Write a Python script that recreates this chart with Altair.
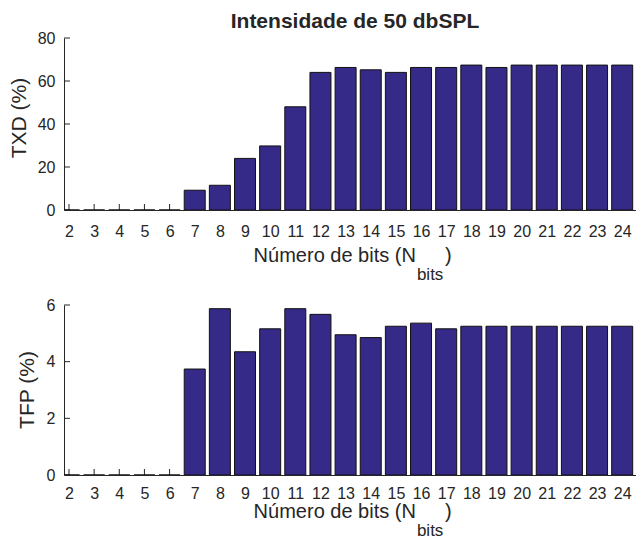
import altair as alt
import pandas as pd

# ---- data ----
bits = list(range(2, 25))
txd = [0, 0, 0, 0, 0, 9.2, 11.5, 24.0, 29.8, 48.0, 64.0, 66.3, 65.2, 64.0,
       66.3, 66.3, 67.4, 66.3, 67.4, 67.4, 67.4, 67.4, 67.4]
tfp = [0, 0, 0, 0, 0, 3.74, 5.87, 4.35, 5.16, 5.87, 5.67, 4.95, 4.85, 5.25,
       5.36, 5.16, 5.25, 5.25, 5.25, 5.25, 5.25, 5.25, 5.25]
txd_ticks = [0, 20, 40, 60, 80]
tfp_ticks = [0, 2, 4, 6]
title_text = ["Intensidade de 50 dbSPL"]
xlabel_main = ["Número de bits (N"]
xlabel_sub = ["bits"]
xlabel_end = [")"]
ylabel_top = ["TXD (%)"]
ylabel_bottom = ["TFP (%)"]

FONT = "Liberation Sans"
INK = "#262626"
BAR = "#352a87"
W = 572
XMAX = 24.35
CX = W * (15.75 - 2) / (XMAX - 2)  # anchor of the x label, in plot pixels


def panel(values, ticks, ymax, h, ylab, ytx, yty, xl_base, sub_base, lab_pad,
          a_top, a_bot, title=None):
    xs = alt.Scale(domain=[2, XMAX], nice=False, zero=False)
    ys = alt.Scale(domain=[0, ymax], nice=False, zero=True)
    xaxis = alt.Axis(values=bits, title=None, ticks=False, tickSize=0,
                     grid=False, labelPadding=lab_pad, labelFontSize=16,
                     labelFont=FONT, labelColor=INK, domainColor=INK,
                     domainWidth=1, labelFlush=False, labelOverlap=False)
    yaxis = alt.Axis(values=ticks, title=None, ticks=False, tickSize=0,
                     grid=False, labelPadding=9, labelFontSize=16,
                     labelFont=FONT, labelColor=INK, domainColor=INK,
                     domainWidth=1, labelFlush=False, labelOverlap=False)
    df = pd.DataFrame({"n": bits, "v": values})

    anchor = alt.Chart(pd.DataFrame({"a": [0]})).mark_rule(
        strokeOpacity=0).encode(
        x=alt.value(-56), y=alt.value(a_top), y2=alt.value(a_bot))
    xt = alt.Chart(pd.DataFrame({"n": bits})).mark_rule(
        color=INK, strokeWidth=1).encode(
        x=alt.X("n:Q", scale=xs, axis=xaxis),
        y=alt.value(h), y2=alt.value(h - 6))
    yt = alt.Chart(pd.DataFrame({"v": ticks})).mark_rule(
        color=INK, strokeWidth=1).encode(
        y=alt.Y("v:Q", scale=ys, axis=yaxis),
        x=alt.value(0), x2=alt.value(6))
    bars = alt.Chart(df).mark_bar(
        size=21, fill=BAR, stroke="#111111", strokeWidth=1, clip=True).encode(
        x=alt.X("n:Q", scale=xs, axis=xaxis),
        y=alt.Y("v:Q", scale=ys, axis=yaxis))

    def txt(vals, **kw):
        enc = {k: alt.value(v) for k, v in kw.pop("pos").items()}
        return alt.Chart(pd.DataFrame({"t": vals})).mark_text(
            font=FONT, color=INK, **kw).encode(text="t:N", **enc)

    layers = [anchor, xt, yt, bars,
              txt(xlabel_main, align="right", baseline="alphabetic",
                  fontSize=20, pos={"x": CX, "y": xl_base}),
              txt(xlabel_sub, align="left", baseline="alphabetic",
                  fontSize=17, pos={"x": CX + 1, "y": sub_base}),
              txt(xlabel_end, align="left", baseline="alphabetic",
                  fontSize=20, pos={"x": CX + 29, "y": xl_base}),
              txt(ylab, align="center", baseline="middle", angle=270,
                  fontSize=21, pos={"x": ytx, "y": yty})]
    if title:
        layers.append(txt(title, align="center", baseline="alphabetic",
                          fontSize=21, fontWeight="bold",
                          pos={"x": W / 2 + 5, "y": -10}))
    return alt.layer(*layers).properties(width=W, height=h)


top = panel(txd, txd_ticks, 80, 172, ylabel_top, -44, 80, 224, 242, 13,
            -30, 250, title=title_text)
bottom = panel(tfp, tfp_ticks, 6, 170, ylabel_bottom, -36, 85, 213, 231, 10,
               -10, 240)

chart = alt.vconcat(top, bottom, spacing=7).properties(
    padding={"left": 0, "top": 0, "right": 0, "bottom": 0}
).configure_view(strokeWidth=0)

chart.save("out.html", embed_options={"renderer": "svg", "actions": False})
